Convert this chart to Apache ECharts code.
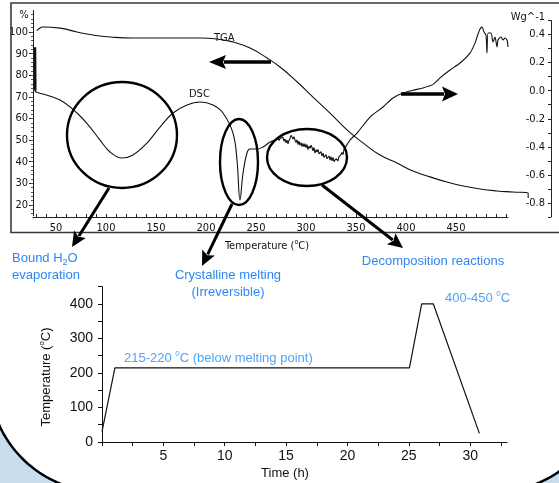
<!DOCTYPE html>
<html>
<head>
<meta charset="utf-8">
<style>
  html, body { margin: 0; padding: 0; background: #fff; }
  #chart { width: 559px; height: 483px; }
</style>
<script src="https://cdn.jsdelivr.net/npm/echarts@6/dist/echarts.min.js"></script>
</head>
<body>
<div id="chart"></div>
<script>
// upper panel: TGA (%) and DSC (W/g) against temperature
const tgaTemp = [31, 32, 37, 54, 71, 87, 104, 127, 161, 194, 211, 227, 244, 261, 274, 291, 307, 324, 341, 357, 374, 391, 407, 424, 441, 457, 474, 491, 507, 522, 522.2]
const tgaWeight = [100.6, 101.2, 102.3, 101.8, 100.0, 98.6, 97.7, 97.2, 97.2, 97.2, 96.8, 95.4, 92.6, 88.0, 83.8, 77.0, 69.9, 62.5, 54.7, 48.7, 43.1, 39.4, 35.7, 33.0, 30.6, 28.8, 27.4, 26.5, 26.0, 25.5, 23.2]

const dscTemp = [29, 29.3, 30, 37, 54, 71, 84, 94, 104, 116, 127, 141, 154, 167, 181, 194, 207, 217, 227, 231, 234, 237, 241, 244, 251, 257, 264, 269,
  271, 272, 273, 274, 275, 276, 277, 278, 279, 280, 281, 282, 283, 284, 285, 286, 287, 288, 289, 290, 291, 292, 293, 294, 295, 296, 297, 298, 299, 300,
  301, 302, 303, 304, 305, 306, 307, 308, 309, 310, 311, 312, 313, 314, 315, 316, 317, 318, 319, 320, 321, 322, 323, 324, 325, 326, 327,
  328, 329, 330, 331, 332, 333, 334, 335, 336, 337, 338, 339, 344, 351, 364, 377, 387, 397, 407, 417, 427, 434, 444, 454, 464, 469, 471,
  474, 476, 478, 480, 481, 482, 485, 487, 489, 491, 492, 495, 497, 499, 501, 502]
const dscHeat = [0.31, 0.0, -0.01, -0.024, -0.067, -0.159, -0.259, -0.352, -0.437, -0.48, -0.458, -0.373, -0.259, -0.159, -0.102, -0.081, -0.102, -0.159, -0.302, -0.494, -0.779, -0.588, -0.444, -0.416, -0.416, -0.401, -0.366, -0.352,
  -0.35, -0.335, -0.355, -0.34, -0.33, -0.348, -0.332, -0.36, -0.345, -0.372, -0.352, -0.378, -0.355, -0.34, -0.318, -0.312, -0.345, -0.328, -0.352, -0.37, -0.35, -0.385, -0.36, -0.39, -0.37, -0.398, -0.375, -0.4, -0.378, -0.405,
  -0.385, -0.42, -0.395, -0.41, -0.388, -0.405, -0.428, -0.405, -0.445, -0.42, -0.438, -0.418, -0.45, -0.456, -0.435, -0.465, -0.445, -0.475, -0.482, -0.455, -0.485, -0.49, -0.465, -0.495, -0.47, -0.5, -0.475,
  -0.505, -0.515, -0.485, -0.475, -0.5, -0.47, -0.478, -0.455, -0.44, -0.455, -0.42, -0.408, -0.352, -0.302, -0.188, -0.116, -0.052, -0.017, 0.003, 0.019, 0.045, 0.091, 0.147, 0.197, 0.268, 0.339, 0.382,
  0.439, 0.453, 0.418, 0.396, 0.268, 0.411, 0.411, 0.347, 0.382, 0.311, 0.361, 0.382, 0.361, 0.375, 0.361, 0.311]

// where the DSC trace turns noisy (decomposition region)
const dscNoiseStart = 27
const dscNoiseEnd = 96

const tempLabels = [50, 100, 150, 200, 250, 300, 350, 400, 450]
const weightLabels = [20, 30, 40, 50, 60, 70, 80, 90, 100]
const heatLabels = [-0.8, -0.6, -0.4, -0.2, 0, 0.2, 0.4]

// lower panel: heat treatment profile
const timeH = [0, 1.05, 25.05, 26.05, 27, 30.75]
const profileTemp = [30, 215, 215, 400, 400, 25]
const timeLabels = [5, 10, 15, 20, 25, 30]
const profileLabels = [0, 100, 200, 300, 400]

const pairs = (xs, ys) => xs.map((x, i) => [x, ys[i]])
const dscPart = (from, to) => pairs(dscTemp.slice(from, to), dscHeat.slice(from, to))
const steps = (from, to, step) => {
  const out = []
  for (let v = from; v <= to + 1e-9; v += step) out.push(Math.round(v * 100) / 100)
  return out
}

const topFont = '"DejaVu Sans Condensed", "DejaVu Sans", sans-serif'
const botFont = '"Liberation Sans", Arial, sans-serif'
const axisColor = '#222'
const blue = '#2f86f5'
const lightBlue = '#4ea4f5'

function arrow(x1, y1, x2, y2, width, headLen, headHalf) {
  const len = Math.hypot(x2 - x1, y2 - y1)
  const ux = (x2 - x1) / len
  const uy = (y2 - y1) / len
  const bx = x2 - ux * headLen
  const by = y2 - uy * headLen
  return [
    { type: 'line', z: 100, shape: { x1, y1, x2: bx + ux * 2, y2: by + uy * 2 }, style: { stroke: '#000', lineWidth: width } },
    {
      type: 'polygon', z: 100,
      shape: { points: [[x2, y2], [bx - uy * headHalf, by + ux * headHalf], [bx + ux * 3, by + uy * 3], [bx + uy * headHalf, by - ux * headHalf]] },
      style: { fill: '#000' },
    },
  ]
}

function ring(cx, cy, rx, ry) {
  return { type: 'ellipse', z: 100, shape: { cx, cy, rx, ry }, style: { fill: 'none', stroke: '#000', lineWidth: 2.4 } }
}

function corner(cx, cy, r, a0, a1, extra) {
  const pts = []
  for (let a = a0; a <= a1; a += 2) {
    pts.push([cx + r * Math.cos(a * Math.PI / 180), cy + r * Math.sin(a * Math.PI / 180)])
  }
  return [
    { type: 'polygon', z: 90, shape: { points: pts.concat([extra]) }, style: { fill: '#c9deed' } },
    { type: 'polyline', z: 91, shape: { points: pts }, style: { stroke: '#000', lineWidth: 2.5, fill: 'none' } },
  ]
}

const supRich = {
  n: { fontSize: 13, fontFamily: botFont, lineHeight: 16 },
  s: { fontSize: 8, fontFamily: botFont, lineHeight: 16, verticalAlign: 'top', padding: [0, 0, 6, 0] },
}

const dscLine = { color: '#111', width: 1.1 }

const option = {
  animation: false,
  backgroundColor: '#fff',
  grid: [
    { left: 33, right: 8, top: 10.4, bottom: 267.2 },
    { left: 33, right: 8, top: 20.5, bottom: 266 },
    { left: 33, right: 51, top: 10, bottom: 266 },
    { left: 102, right: 52, top: 286.7, bottom: 41 },
  ],
  xAxis: [
    { gridIndex: 0, type: 'value', min: 27, max: 545, show: false },
    { gridIndex: 1, type: 'value', min: 27, max: 545, show: false },
    {
      gridIndex: 2, type: 'value', min: 27, max: 502,
      axisLine: { lineStyle: { color: axisColor, width: 1 } },
      axisTick: { inside: true, length: 3, customValues: steps(30, 500, 10), lineStyle: { color: axisColor } },
      axisLabel: { customValues: tempLabels, margin: 6, color: '#111', fontSize: 11, fontFamily: topFont },
      splitLine: { show: false },
    },
    {
      gridIndex: 3, type: 'value', min: 0, max: 33,
      axisLine: { lineStyle: { color: '#111', width: 1 } },
      axisTick: { length: 4, customValues: steps(0, 32.5, 2.5), lineStyle: { color: '#111' } },
      axisLabel: { customValues: timeLabels, margin: 7, color: '#111', fontSize: 14, fontFamily: botFont },
      splitLine: { show: false },
    },
  ],
  yAxis: [
    {
      gridIndex: 0, type: 'value', min: 15, max: 110, position: 'left',
      axisLine: { show: true, lineStyle: { color: axisColor, width: 1 } },
      axisTick: { show: true, length: 4, customValues: weightLabels, lineStyle: { color: axisColor } },
      axisLabel: { customValues: weightLabels, margin: 5, color: '#111', fontSize: 11, fontFamily: topFont },
      splitLine: { show: false },
    },
    {
      gridIndex: 0, type: 'value', min: 15, max: 110, position: 'left',
      axisLine: { show: false },
      axisTick: { show: true, length: 2, customValues: steps(16, 108, 2), lineStyle: { color: '#555' } },
      axisLabel: { show: false },
      splitLine: { show: false },
    },
    {
      gridIndex: 1, type: 'value', min: -0.9, max: 0.5, position: 'right',
      axisLine: { show: true, lineStyle: { color: axisColor, width: 1 } },
      axisTick: { show: true, inside: true, length: 3, customValues: steps(-0.9, 0.5, 0.1), lineStyle: { color: axisColor } },
      axisLabel: {
        inside: true, customValues: heatLabels, margin: 6, color: '#111', fontSize: 11, fontFamily: topFont,
        formatter: (v) => Number(v).toFixed(1),
      },
      splitLine: { show: false },
    },
    { gridIndex: 2, type: 'value', min: 0, max: 1, show: false },
    {
      gridIndex: 3, type: 'value', min: 0, max: 450,
      axisLine: { show: true, lineStyle: { color: '#111', width: 1 } },
      axisTick: { show: true, length: 4, customValues: steps(0, 450, 50), lineStyle: { color: '#111' } },
      axisLabel: { customValues: profileLabels, margin: 9, color: '#111', fontSize: 14, fontFamily: botFont },
      splitLine: { show: false },
    },
  ],
  series: [
    {
      name: 'TGA', type: 'line', xAxisIndex: 0, yAxisIndex: 0,
      data: pairs(tgaTemp, tgaWeight),
      symbol: 'none', smooth: 0.5,
      lineStyle: { color: '#111', width: 1.1 },
    },
    {
      // initial transient of the DSC trace, drawn bold as in the instrument plot
      name: 'DSC', type: 'line', xAxisIndex: 1, yAxisIndex: 2,
      data: dscPart(0, 2),
      symbol: 'none',
      lineStyle: { color: '#111', width: 2.5 },
    },
    {
      name: 'DSC', type: 'line', xAxisIndex: 1, yAxisIndex: 2,
      data: dscPart(1, dscNoiseStart + 1),
      symbol: 'none', smooth: 0.4,
      lineStyle: dscLine,
    },
    {
      name: 'DSC', type: 'line', xAxisIndex: 1, yAxisIndex: 2,
      data: dscPart(dscNoiseStart, dscNoiseEnd + 1),
      symbol: 'none',
      lineStyle: dscLine,
    },
    {
      name: 'DSC', type: 'line', xAxisIndex: 1, yAxisIndex: 2,
      data: dscPart(dscNoiseEnd, dscTemp.length),
      symbol: 'none', smooth: 0.25,
      lineStyle: dscLine,
    },
    {
      name: 'Profile', type: 'line', xAxisIndex: 3, yAxisIndex: 4,
      data: pairs(timeH, profileTemp),
      symbol: 'none',
      lineStyle: { color: '#111', width: 1.2 },
    },
  ],
  graphic: {
    elements: [
      // frame of the thermogram
      { type: 'rect', z: 100, shape: { x: 11, y: 3, width: 560, height: 229.5 }, style: { fill: 'none', stroke: '#3a3a3a', lineWidth: 1.6 } },

      // highlighted regions
      ring(122, 135, 55, 53),
      ring(239, 162, 19, 43),
      ring(307, 157.5, 40, 28.5),

      // curve/axis arrows
      ...arrow(271, 62, 209, 62, 3.5, 17, 7),
      ...arrow(401, 94, 458, 94, 3.5, 16, 7.5),

      // annotation arrows
      ...arrow(109, 188, 72, 247, 3, 15, 7),
      ...arrow(232, 204, 202, 266, 3, 15, 7),
      ...arrow(322, 185, 403, 248, 3, 15, 7),

      // curve and axis captions
      { type: 'text', z: 101, x: 214, y: 38, style: { text: 'TGA', font: '11px ' + topFont, fill: '#111', verticalAlign: 'middle' } },
      { type: 'text', z: 101, x: 189, y: 94, style: { text: 'DSC', font: '11px ' + topFont, fill: '#111', verticalAlign: 'middle' } },
      { type: 'text', z: 101, x: 24, y: 15, style: { text: '%', font: '11px ' + topFont, fill: '#111', align: 'center', verticalAlign: 'middle' } },
      { type: 'text', z: 101, x: 545, y: 17, style: { text: 'Wg^-1', font: '11px ' + topFont, fill: '#111', align: 'right', verticalAlign: 'middle' } },
      {
        type: 'text', z: 101, x: 267, y: 246,
        style: {
          text: '{n|Temperature (}{s|o}{n|C)}', align: 'center', verticalAlign: 'middle',
          rich: {
            n: { fontSize: 11, fontFamily: topFont, fill: '#111', lineHeight: 14 },
            s: { fontSize: 7, fontFamily: topFont, fill: '#111', lineHeight: 14, verticalAlign: 'top', padding: [0, 0, 5, 0] },
          },
        },
      },

      // blue annotations
      {
        type: 'text', z: 101, x: 12, y: 250,
        style: {
          text: '{n|Bound H}{d|2}{n|O}\n{n|evaporation}', verticalAlign: 'top',
          rich: {
            n: { fontSize: 13, fontFamily: botFont, fill: blue, lineHeight: 17 },
            d: { fontSize: 9, fontFamily: botFont, fill: blue, lineHeight: 17, verticalAlign: 'bottom', padding: [5, 0, 0, 0] },
          },
        },
      },
      {
        type: 'text', z: 101, x: 228, y: 283.5,
        style: { text: 'Crystalline melting\n(Irreversible)', font: '13px ' + botFont, fill: blue, align: 'center', verticalAlign: 'middle', lineHeight: 17 },
      },
      {
        type: 'text', z: 101, x: 433, y: 261,
        style: { text: 'Decomposition reactions', font: '13px ' + botFont, fill: blue, align: 'center', verticalAlign: 'middle' },
      },
      {
        type: 'text', z: 101, x: 124, y: 358,
        style: {
          text: '{n|215-220 }{s|0}{n|C (below melting point)}', verticalAlign: 'middle',
          rich: { n: { ...supRich.n, fill: lightBlue }, s: { ...supRich.s, fill: lightBlue } },
        },
      },
      {
        type: 'text', z: 101, x: 445, y: 298,
        style: {
          text: '{n|400-450 }{s|0}{n|C}', verticalAlign: 'middle',
          rich: { n: { ...supRich.n, fill: lightBlue }, s: { ...supRich.s, fill: lightBlue } },
        },
      },

      // profile axis names
      { type: 'text', z: 101, x: 285, y: 473, style: { text: 'Time (h)', font: '13px ' + botFont, fill: '#111', align: 'center', verticalAlign: 'middle' } },
      {
        type: 'text', z: 101, x: 46, y: 377, rotation: Math.PI / 2,
        style: {
          text: '{n|Temperature (}{s|o}{n|C)}', align: 'center', verticalAlign: 'middle',
          rich: { n: { ...supRich.n, fill: '#111' }, s: { ...supRich.s, fill: '#111' } },
        },
      },

      // slide background corners
      ...corner(103, 378, 114, 96, 164, [-10, 495]),
      ...corner(494, 378, 114, 18, 84, [610, 495]),
    ],
  },
}

const chart = echarts.init(document.getElementById('chart'))
chart.setOption(option)
window.addEventListener('resize', () => chart.resize())
</script>
</body>
</html>
